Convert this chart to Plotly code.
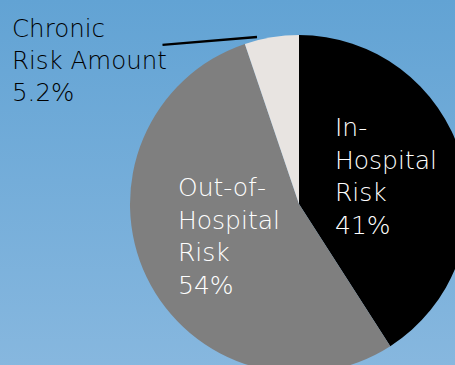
import plotly.graph_objects as go
import urllib.parse

# ---- data ----
categories = ["In-Hospital Risk", "Out-of-Hospital Risk", "Chronic Risk Amount"]
label_lines = [["In-", "Hospital", "Risk"], ["Out-of-", "Hospital", "Risk"], ["Chronic", "Risk Amount"]]
values = [41, 54, 5.2]
colors = ["#000000", "#7f7f7f", "#e8e4e1"]

W, H = 470, 380
def px(x): return x / W
def py(y): return 1 - y / H

FONT = "DejaVu Sans, Century Gothic, sans-serif"

svg = (
    f'<svg xmlns="http://www.w3.org/2000/svg" width="{W}" height="{H}" preserveAspectRatio="none">'
    '<defs><linearGradient id="g" x1="0" y1="0" x2="0" y2="1">'
    '<stop offset="0" stop-color="#62a3d4"/><stop offset="1" stop-color="#88b8df"/>'
    '</linearGradient></defs>'
    f'<rect width="{W}" height="{H}" fill="url(#g)"/></svg>'
)
bg_uri = "data:image/svg+xml;charset=utf-8," + urllib.parse.quote(svg)

fig = go.Figure(go.Pie(
    labels=categories,
    values=values,
    marker=dict(colors=colors, line=dict(width=0)),
    sort=False,
    direction="clockwise",
    rotation=0,
    textinfo="none",
    hoverinfo="label+percent",
    showlegend=False,
    domain=dict(x=[px(130), px(468)], y=[py(373), py(35)]),
))

def block(i):
    return "<br>".join(label_lines[i] + [f"{values[i]:g}%"])

annotations = [
    dict(text=block(0), x=px(333), y=py(111), xanchor="left", yanchor="top", align="left",
         font=dict(color="white", size=25, family=FONT, weight=200)),
    dict(text=block(1), x=px(176), y=py(171), xanchor="left", yanchor="top", align="left",
         font=dict(color="white", size=25, family=FONT, weight=200)),
    dict(text=block(2), x=px(10), y=py(12), xanchor="left", yanchor="top", align="left",
         font=dict(color="black", size=24.5, family=FONT, weight=200)),
    dict(text="", x=px(257), y=py(37), ax=-96, ay=8,
         showarrow=True, arrowhead=0, arrowwidth=2.5, arrowcolor="black", standoff=0, startstandoff=0),
]
for a in annotations:
    a.setdefault("xref", "paper")
    a.setdefault("yref", "paper")
    a.setdefault("showarrow", False)

fig.update_layout(
    width=W, height=H,
    margin=dict(l=0, r=0, t=0, b=0),
    paper_bgcolor="#74acdb",
    plot_bgcolor="rgba(0,0,0,0)",
    images=[dict(source=bg_uri, xref="paper", yref="paper", x=0, y=1, sizex=1, sizey=1,
                 sizing="stretch", layer="below", xanchor="left", yanchor="top")],
    annotations=annotations,
)

fig.write_html("out.html", config={"displayModeBar": False},
               post_script="document.body.style.margin='0';document.body.style.overflow='hidden';")
